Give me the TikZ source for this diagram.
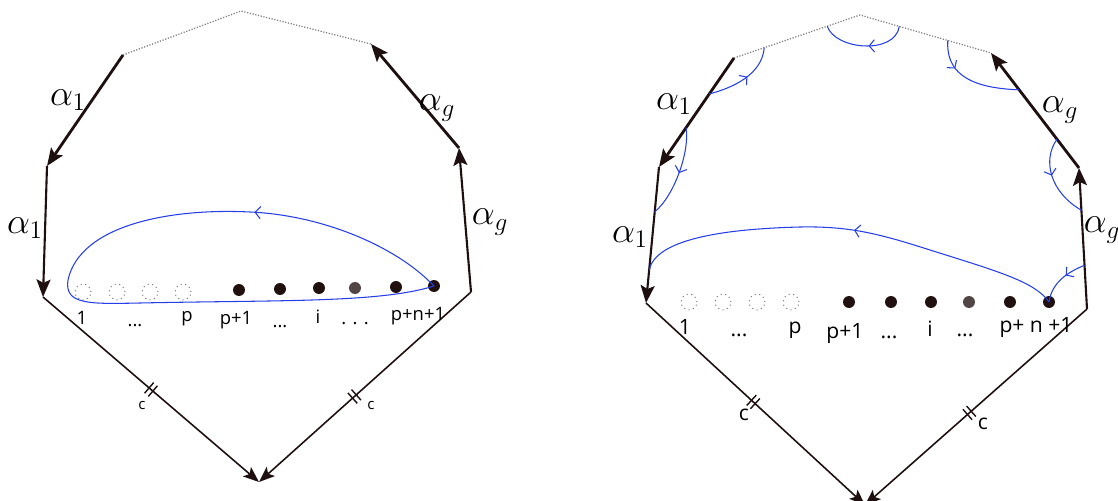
\documentclass[tikz,border=0pt]{standalone}
\usepackage{fontspec}
\setmainfont{Open Sans}
\usetikzlibrary{arrows.meta,positioning,calc,decorations.markings}
\definecolor{edgec}{RGB}{30,16,16}
\definecolor{loopblue}{RGB}{38,62,232}
\definecolor{dotc}{RGB}{32,16,16}
\newcommand{\lowdots}{...}
\newcommand{\spdots}{. . .}

\tikzset{
  side/.style={edgec,line width=1.6pt,-{Stealth[length=10pt,width=8pt,inset=2pt]}},
  wall/.style={edgec,line width=1.2pt,-{Stealth[length=10pt,width=8pt,inset=2pt]}},
  base/.style={edgec,line width=0.9pt,-{Stealth[length=9pt,width=7pt,inset=2pt]}},
  gap/.style={gray,line width=0.7pt,dash pattern=on 0.7pt off 0.9pt},
  fdot/.style={circle,fill=dotc,inner sep=0pt,minimum size=6.8pt},
  odot/.style={circle,draw=gray,dotted,line width=0.6pt,inner sep=0pt,minimum size=9pt},
  lbl/.style={anchor=base,font=\fontsize{10.5}{12}\selectfont},
  rlbl/.style={anchor=base,font=\fontsize{12}{14}\selectfont},
  alab/.style={font=\fontsize{20}{24}\selectfont},
  loopc/.style={loopblue,line width=0.6pt},
  midarr/.style={postaction={decorate,decoration={markings,
      mark=at position #1 with {\arrow{Straight Barb[length=3pt,width=7pt]}}}}},
  ticks/.style={postaction={decorate,decoration={markings,
      mark=at position #1 with {\draw[-,line width=0.8pt] (-1.4pt,-4pt) -- (-1.4pt,4pt) (1.4pt,-4pt) -- (1.4pt,4pt);}}}},
}

\begin{document}
\begin{tikzpicture}[x=0.02cm,y=-0.02cm]
\useasboundingbox (0,0) rectangle (1118,500);

% left polygon
\coordinate (Ltop) at (241,11);
\coordinate (Lul) at (123,55);
\coordinate (Lur) at (371,44);
\coordinate (Lml) at (47,166);
\coordinate (Lmr) at (459,148);
\coordinate (Lbl) at (43,297);
\coordinate (Lbr) at (471,292);
\coordinate (Lbot) at (259,482);

\draw[gap] (Lul) -- (Ltop) -- (Lur);
\draw[side] (Lul) -- (Lml);
\draw[wall] (Lml) -- (Lbl);
\draw[wall] (Lbr) -- (Lmr);
\draw[side] (Lmr) -- (Lur);
\draw[base,ticks=0.5] (Lbl) -- (Lbot);
\draw[base,ticks=0.55] (Lbr) -- (Lbot);

\node[alab] (La1) at (68,100) {$\alpha_1$};
\node[alab] (La2) at (25,228) {$\alpha_1$};
\node[alab] (Lag1) at (437,108) {$\alpha_g$};
\node[alab] (Lag2) at (490,222) {$\alpha_g$};

\node[font=\fontsize{8.5}{10}\selectfont] (Lc1) at (142,405) {c};
\node[font=\fontsize{8.5}{10}\selectfont] (Lc2) at (371,405) {c};

% punctures, left
\foreach \x [count=\i] in {83,117,150,183}
  \node[odot] (Lo\i) at (\x,292) {};
\foreach \x/\y/\s [count=\i] in {239/290/100,280/289/100,319/288/100,355/288/78,396/287/100,434/286/100}
  \node[fdot,fill=dotc!\s!white] (Lf\i) at (\x,\y) {};

\foreach \x/\y/\t [count=\i] in {82/324/1,135/326/\lowdots,187/321/p,236/324/p+1,280/327/\lowdots,318/323/i,355/324/\spdots,418/320/p+n+1}
  \node[lbl] (Ln\i) at (\x,\y) {\t};

% loop around the first p+n+1 points
\draw[loopc,midarr=0.25] (Lf6.center) .. controls (395,245) and (320,215) .. (250,212)
  .. controls (170,208) and (80,225) .. (68,280)
  .. controls (64,305) and (90,304) .. (140,303)
  .. controls (280,300) and (380,303) .. (Lf6.center);

% right polygon
\coordinate (Rtop) at (860,15);
\coordinate (Rul) at (734,58);
\coordinate (Rur) at (991,53);
\coordinate (Rml) at (659,167);
\coordinate (Rmr) at (1079,168);
\coordinate (Rbl) at (646,303);
\coordinate (Rbr) at (1087,309);
\coordinate (Rbot) at (865,505);

\draw[gap] (Rul) -- (Rtop) -- (Rur);
\draw[side] (Rul) -- (Rml);
\draw[wall] (Rml) -- (Rbl);
\draw[wall] (Rbr) -- (Rmr);
\draw[side] (Rmr) -- (Rur);
\draw[base,ticks=0.49] (Rbl) -- (Rbot);
\draw[base,ticks=0.53] (Rbr) -- (Rbot);

\node[alab] (Ra1) at (674,104) {$\alpha_1$};
\node[alab] (Ra2) at (630,237) {$\alpha_1$};
\node[alab] (Rag1) at (1060,110) {$\alpha_g$};
\node[alab] (Rag2) at (1102,230) {$\alpha_g$};

\node[font=\fontsize{12}{14}\selectfont] (Rc1) at (744,415) {c};
\node[font=\fontsize{12}{14}\selectfont] (Rc2) at (983,424) {c};

% punctures, right
\foreach \x [count=\i] in {689,723,757,791}
  \node[odot] (Ro\i) at (\x,302) {};
\foreach \x/\s [count=\i] in {849/100,891/100,931/100,969/78,1010/100,1049/100}
  \node[fdot,fill=dotc!\s!white] (Rf\i) at (\x,302) {};

\foreach \x/\y/\t [count=\i] in {685/334/1,739/336/\lowdots,795/333/p,845/338/p+1,889/338/\lowdots,930/336/i,965/336/\lowdots,1036/332/p+ n +1}
  \node[rlbl] (Rn\i) at (\x,\y) {\t};

% arcs round the corners
\coordinate (Rc1a) at ($(Rul)!0.33!(Rml)$);
\coordinate (Rc1b) at ($(Rul)!0.24!(Rtop)$);
\coordinate (Rc2a) at ($(Rul)!0.64!(Rml)$);
\coordinate (Rc2b) at ($(Rml)!0.33!(Rbl)$);
\coordinate (Rc3a) at ($(Rtop)!0.3!(Rur)$);
\coordinate (Rc3b) at ($(Rul)!0.74!(Rtop)$);
\coordinate (Rc4a) at ($(Rtop)!0.67!(Rur)$);
\coordinate (Rc4b) at ($(Rur)!0.32!(Rmr)$);
\coordinate (Rc5a) at ($(Rur)!0.75!(Rmr)$);
\coordinate (Rc5b) at ($(Rmr)!0.3!(Rbr)$);
\coordinate (Rlv) at ($(Rml)!0.76!(Rbl)$);
\coordinate (Rrv) at ($(Rmr)!0.69!(Rbr)$);

\draw[loopc,midarr=0.55] (Rc1a) .. controls (732,88) and (762,75) .. (Rc1b);
\draw[loopc,midarr=0.5] (Rc2a) .. controls (690,150) and (675,195) .. (Rc2b);
\draw[loopc,midarr=0.45] (Rc3a) .. controls (895,55) and (835,50) .. (Rc3b);
\draw[loopc,midarr=0.3] (Rc4a) .. controls (946,70) and (965,88) .. (Rc4b);
\draw[loopc,midarr=0.45] (Rc5a) .. controls (1042,160) and (1050,192) .. (Rc5b);

\draw[loopc,midarr=0.49] (Rf6.center) .. controls (1035,282) and (1000,272) .. (930,250)
  .. controls (880,234) and (850,226) .. (800,227)
  .. controls (720,229) and (655,240) .. (Rlv);
\draw[loopc,midarr=0.4] (Rrv) .. controls (1068,272) and (1052,282) .. (Rf6.center);

\end{tikzpicture}
\end{document}
